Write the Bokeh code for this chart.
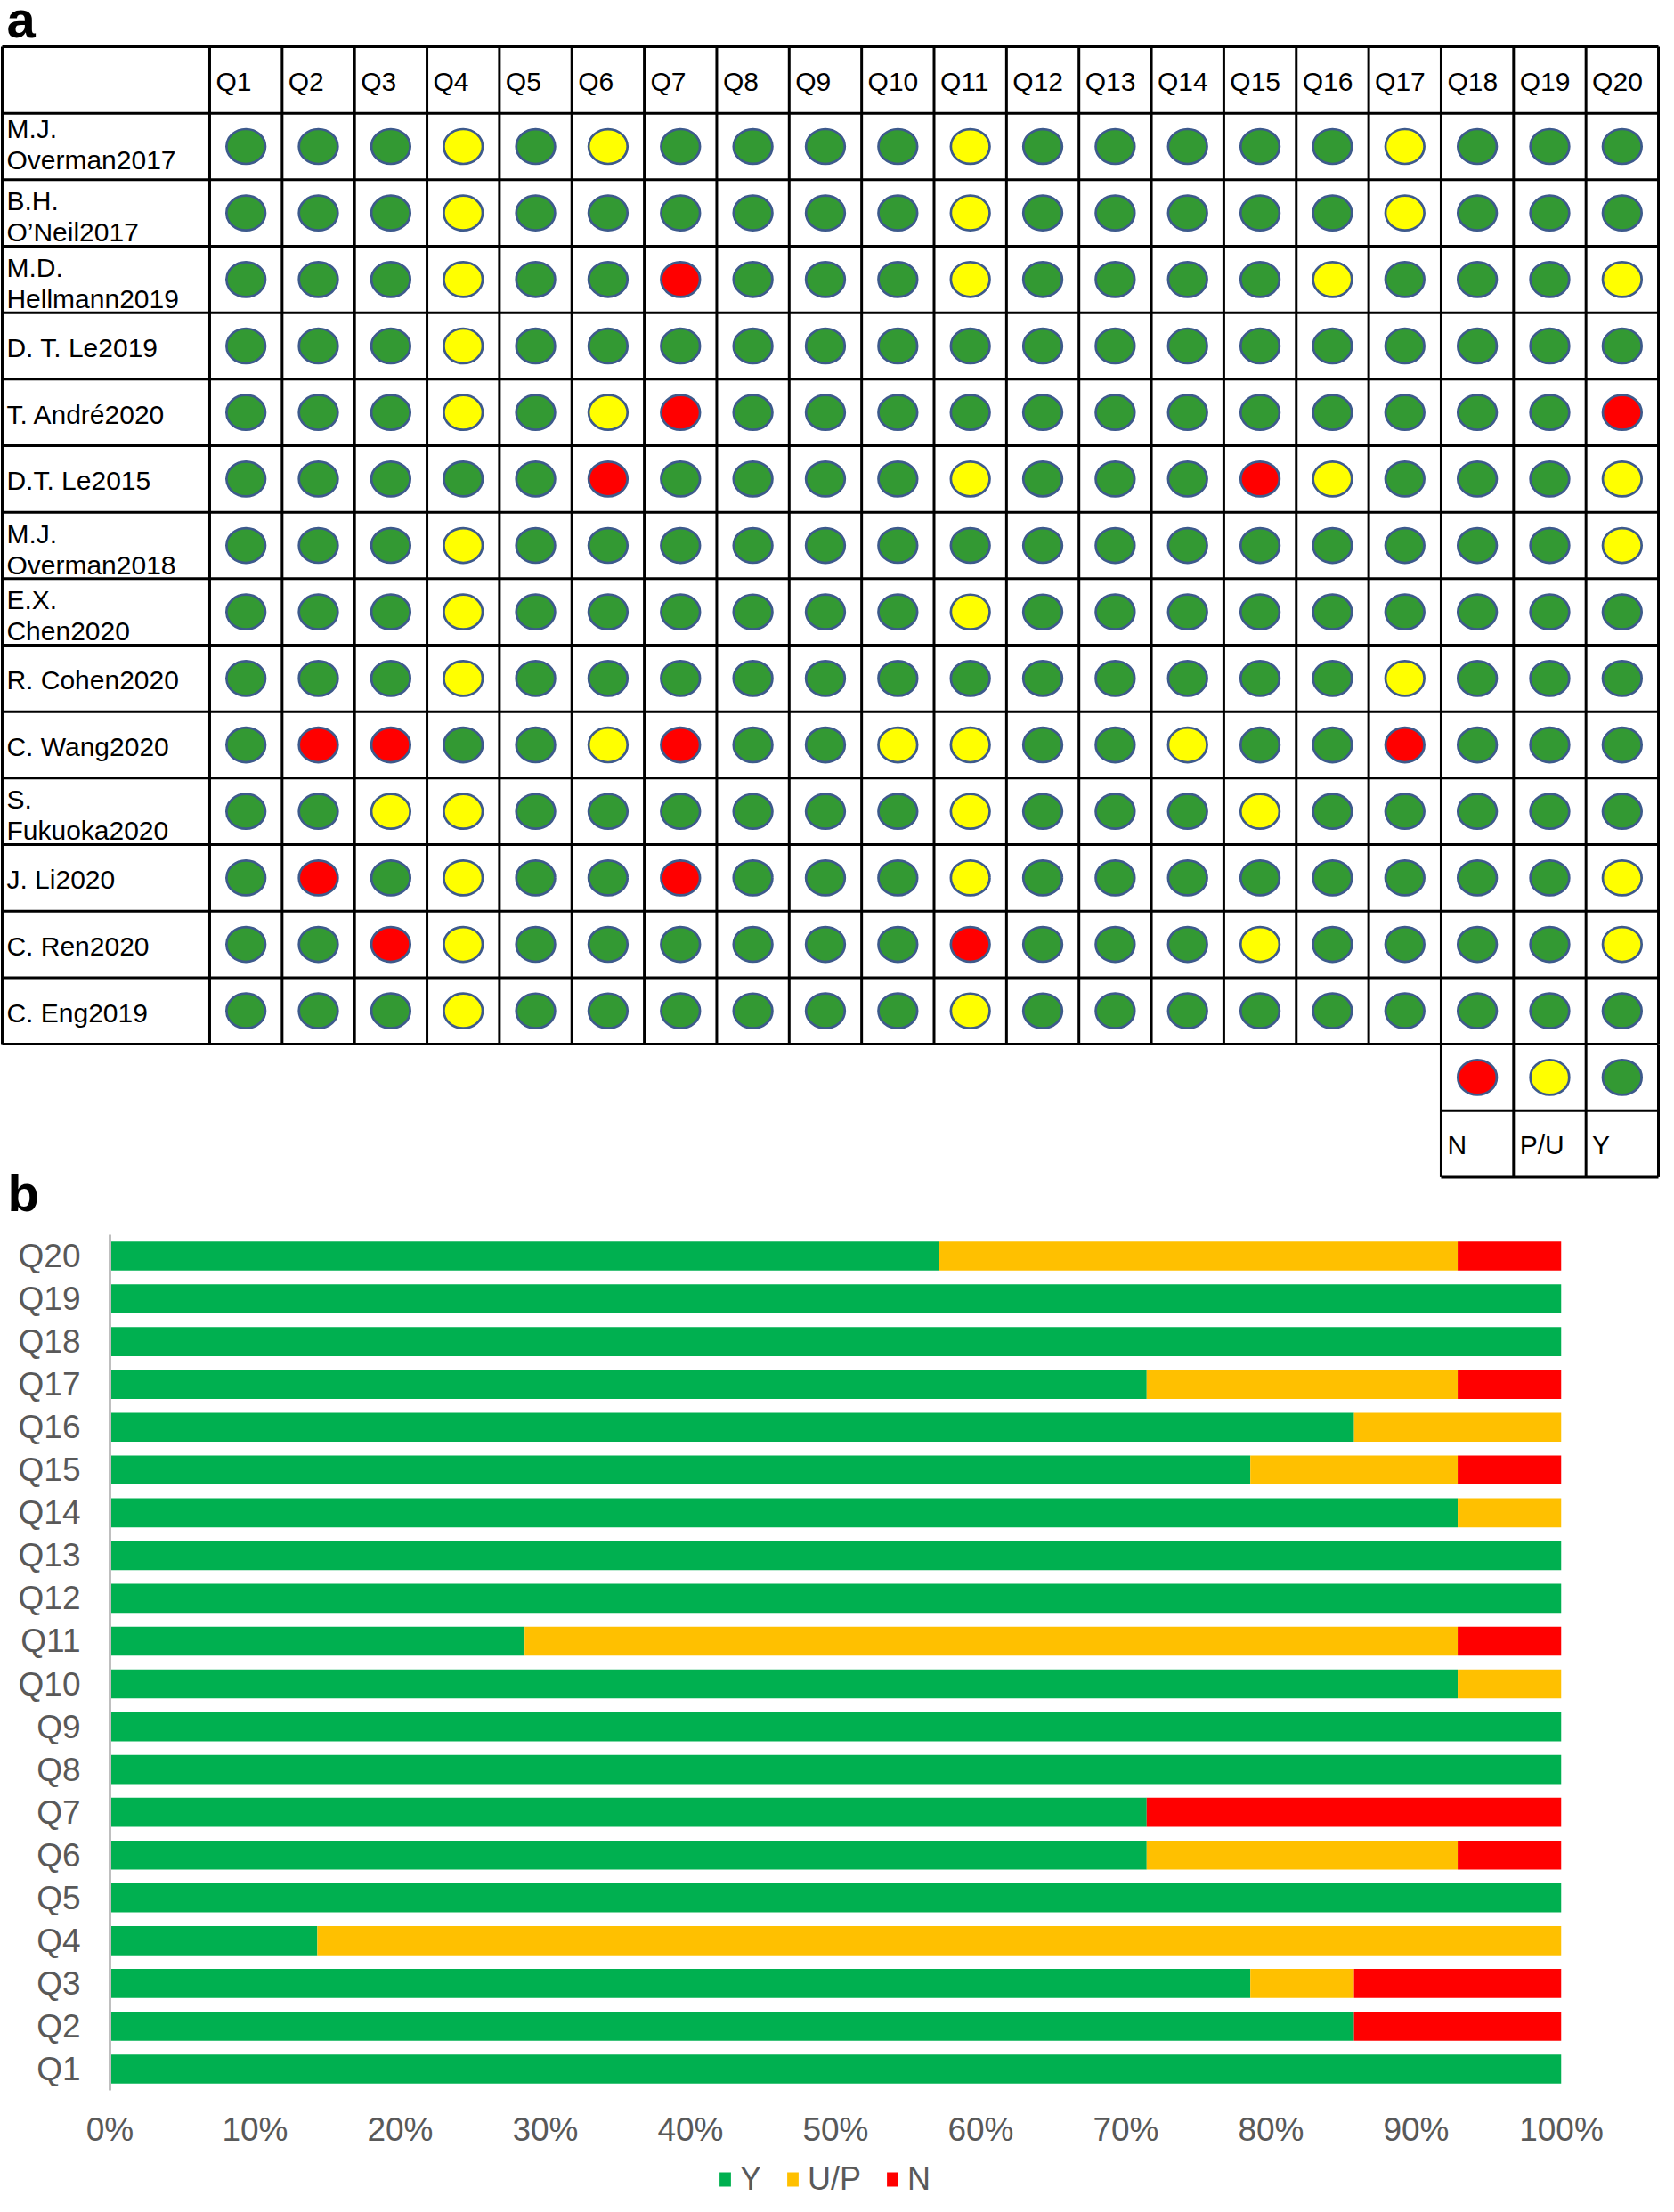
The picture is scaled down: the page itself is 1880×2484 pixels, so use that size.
from bokeh.plotting import figure
from bokeh.layouts import column
from bokeh.models import ColumnDataSource, Range1d, FactorRange, FixedTicker, NumeralTickFormatter, Legend
from bokeh.core.properties import value
from bokeh.embed import file_html
from bokeh.resources import INLINE

FONT = "Liberation Sans"

# ---------------- data ----------------
questions = ["Q1", "Q2", "Q3", "Q4", "Q5", "Q6", "Q7", "Q8", "Q9", "Q10",
             "Q11", "Q12", "Q13", "Q14", "Q15", "Q16", "Q17", "Q18", "Q19", "Q20"]

studies = ["M.J.\nOverman2017", "B.H.\nO\u2019Neil2017", "M.D.\nHellmann2019", "D. T. Le2019",
           "T. Andr\u00e92020", "D.T. Le2015", "M.J.\nOverman2018", "E.X.\nChen2020",
           "R. Cohen2020", "C. Wang2020", "S.\nFukuoka2020", "J. Li2020", "C. Ren2020", "C. Eng2019"]

# Y = yes (green), P = partial/unclear (yellow), N = no (red); one char per question Q1..Q20
ratings = [
    "YYYPYPYYYYPYYYYYPYYY",
    "YYYPYYYYYYPYYYYYPYYY",
    "YYYPYYNYYYPYYYYPYYYP",
    "YYYPYYYYYYYYYYYYYYYY",
    "YYYPYPNYYYYYYYYYYYYN",
    "YYYYYNYYYYPYYYNPYYYP",
    "YYYPYYYYYYYYYYYYYYYP",
    "YYYPYYYYYYPYYYYYYYYY",
    "YYYPYYYYYYYYYYYYPYYY",
    "YNNYYPNYYPPYYPYYNYYY",
    "YYPPYYYYYYPYYYPYYYYY",
    "YNYPYYNYYYPYYYYYYYYP",
    "YYNPYYYYYYNYYYPYYYYP",
    "YYYPYYYYYYPYYYYYYYYY",
]

key_codes = ["N", "P", "Y"]
key_labels = ["N", "P/U", "Y"]

# panel b: number of studies per answer, Q1..Q20
y_counts = [14, 12, 11, 2, 14, 10, 10, 14, 14, 13, 4, 14, 14, 13, 11, 12, 10, 14, 14, 8]
up_counts = [0, 0, 1, 12, 0, 3, 0, 0, 0, 1, 9, 0, 0, 1, 2, 2, 3, 0, 0, 5]
n_counts = [0, 2, 2, 0, 0, 1, 4, 0, 0, 0, 1, 0, 0, 0, 1, 0, 1, 0, 0, 1]
n_studies = 14
bar_series = ["Y", "U/P", "N"]
x_ticks = [0, 0.1, 0.2, 0.3, 0.4, 0.5, 0.6, 0.7, 0.8, 0.9, 1.0]

# ---------------- styles ----------------
CIRCLE_FILL = {"Y": "#339933", "P": "#FFFF00", "N": "#FF0000"}
CIRCLE_LINE = "#3D5A8C"
BAR_COLORS = ["#00B050", "#FFC000", "#FF0000"]
GRAY_TXT = "#595959"
LABEL_NUDGE = {0: -7}   # first row's two-line label sits a little higher in the original

# ---------------- panel a: table ----------------
TOP = 52.0
ROW_H = 74.67
LEFT = 2.0
LABEL_R = 237.0
COL_W = 82.05
NQ = len(questions)
NS = len(studies)
RIGHT = LABEL_R + NQ * COL_W
BOTTOM = TOP + (NS + 1) * ROW_H
PA_H = 1376

pa = figure(width=1864, height=PA_H, x_range=Range1d(0, 1880), y_range=Range1d(PA_H, 0),
            x_axis_type=None, y_axis_type=None, output_backend="svg", toolbar_location=None,
            min_border=0)
pa.grid.visible = False
pa.outline_line_color = None
pa.background_fill_color = "white"

# grid lines
x0, y0, x1, y1 = [], [], [], []
for k in range(NS + 2):
    yy = TOP + k * ROW_H
    x0.append(LEFT); x1.append(RIGHT); y0.append(yy); y1.append(yy)
for xx in [LEFT] + [LABEL_R + j * COL_W for j in range(NQ + 1)]:
    x0.append(xx); x1.append(xx); y0.append(TOP); y1.append(BOTTOM)
# key box below Q18-Q20
kx_left = LABEL_R + (NQ - 3) * COL_W
for k in (1, 2):
    yy = BOTTOM + k * ROW_H
    x0.append(kx_left); x1.append(RIGHT); y0.append(yy); y1.append(yy)
for j in range(NQ - 3, NQ + 1):
    xx = LABEL_R + j * COL_W
    x0.append(xx); x1.append(xx); y0.append(BOTTOM); y1.append(BOTTOM + 2 * ROW_H)
pa.segment(x0=x0, y0=y0, x1=x1, y1=y1, line_color="black", line_width=3)

# circles
cx, cy, cf = [], [], []
for i, row in enumerate(ratings):
    for j, code in enumerate(row):
        cx.append(LABEL_R + (j + 0.5) * COL_W)
        cy.append(TOP + (i + 1.5) * ROW_H)
        cf.append(CIRCLE_FILL[code])
for k, code in enumerate(key_codes):
    cx.append(LABEL_R + (NQ - 3 + k + 0.5) * COL_W)
    cy.append(BOTTOM + 0.5 * ROW_H)
    cf.append(CIRCLE_FILL[code])
pa.ellipse(x=cx, y=cy, width=44, height=39, fill_color=cf, line_color=CIRCLE_LINE, line_width=2.7)

TXT = dict(text_font=value(FONT), text_font_size="30px", text_color="black",
           text_align="left", text_baseline="middle")

# header texts
hx = [LABEL_R + j * COL_W + 7 for j in range(NQ)]
hy = [TOP + 0.5 * ROW_H + 1.5] * NQ
pa.text(x=hx, y=hy, text=questions, **TXT)

# study labels
tx, ty, tt = [], [], []
for i, s in enumerate(studies):
    top = TOP + (i + 1) * ROW_H + LABEL_NUDGE.get(i, 0)
    parts = s.split("\n")
    if len(parts) == 2:
        tx += [7, 7]
        ty += [top + 24, top + 59]
        tt += parts
    else:
        tx.append(7)
        ty.append(top + 0.5 * ROW_H + 2)
        tt.append(s)
pa.text(x=tx, y=ty, text=tt, **TXT)

# key labels
kx = [LABEL_R + (NQ - 3 + k) * COL_W + 7 for k in range(3)]
ky = [BOTTOM + 1.5 * ROW_H + 1] * 3
pa.text(x=kx, y=ky, text=key_labels, **TXT)

# panel letters
pa.text(x=[7, 8], y=[21, 1339], text=["a", "b"], text_font=value(FONT), text_font_size="58px",
        text_font_style="bold", text_color="black", text_align="left", text_baseline="middle")

# ---------------- panel b: stacked bars ----------------
src = ColumnDataSource(dict(
    q=questions,
    Y=[c / n_studies for c in y_counts],
    UP=[c / n_studies for c in up_counts],
    N=[c / n_studies for c in n_counts],
))

pb = figure(width=1864, height=1043, frame_width=1630, frame_height=961,
            y_range=FactorRange(factors=questions, range_padding=0),
            x_range=Range1d(0, 1), output_backend="svg", toolbar_location=None,
            min_border_left=123, min_border_right=111, min_border_top=10, min_border_bottom=72)
pb.outline_line_color = None
pb.grid.visible = False

rs = pb.hbar_stack(["Y", "UP", "N"], y="q", height=0.68, color=BAR_COLORS, source=src, line_width=0)

pb.xaxis.ticker = FixedTicker(ticks=x_ticks)
pb.xaxis.formatter = NumeralTickFormatter(format="0%")
pb.xaxis.axis_line_color = None
pb.xaxis.major_tick_line_color = None
pb.xaxis.minor_tick_line_color = None
pb.xaxis.major_tick_out = 0
pb.xaxis.major_tick_in = 0
pb.xaxis.major_label_standoff = 23
pb.xaxis.major_label_text_font = FONT
pb.xaxis.major_label_text_font_size = "37px"
pb.xaxis.major_label_text_color = GRAY_TXT

pb.yaxis.axis_line_color = "#BFBFBF"
pb.yaxis.axis_line_width = 3
pb.yaxis.major_tick_line_color = None
pb.yaxis.minor_tick_line_color = None
pb.yaxis.major_tick_out = 0
pb.yaxis.major_tick_in = 0
pb.yaxis.major_label_standoff = 33
pb.yaxis.major_label_text_font = FONT
pb.yaxis.major_label_text_font_size = "37px"
pb.yaxis.major_label_text_color = GRAY_TXT

# ---------------- legend strip (own small figure) ----------------
pc = figure(width=1864, height=49, x_range=Range1d(0, 1), y_range=Range1d(0, 1),
            x_axis_type=None, y_axis_type=None, output_backend="svg", toolbar_location=None,
            min_border=0)
pc.grid.visible = False
pc.outline_line_color = None
legend_renderers = []
for col in BAR_COLORS:
    # swatch renderers; their bar lies outside the visible range, only the legend shows it
    legend_renderers.append(pc.hbar(y=[-5], left=[0], right=[1], height=0.5, color=col, line_width=0))
legend = Legend(items=[(lab, [r]) for lab, r in zip(bar_series, legend_renderers)],
                orientation="horizontal", location=(806, 0), border_line_color=None,
                background_fill_alpha=0, label_text_font=FONT, label_text_font_size="36px",
                label_text_color=GRAY_TXT, glyph_width=16, glyph_height=20, spacing=27,
                label_standoff=9, padding=0, margin=0)
pc.add_layout(legend, "center")

for fig in (pa, pb, pc):
    try:
        fig.frame_align = False
    except Exception:
        pass

layout = column(pa, pb, pc, spacing=0)
open("out.html", "w").write(file_html(layout, INLINE))
